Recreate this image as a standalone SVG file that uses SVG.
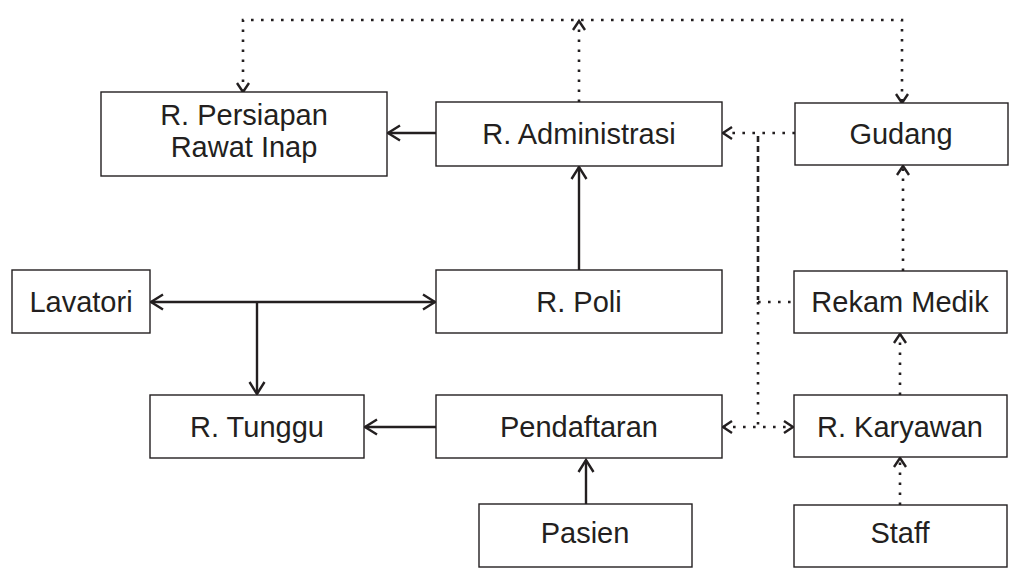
<svg xmlns="http://www.w3.org/2000/svg" width="1017" height="575" viewBox="0 0 1017 575">
  <defs>
    <style>
      .box { fill: #ffffff; stroke: #231f20; stroke-width: 1.4; }
      .lbl { font-family: "Liberation Sans", Arial, sans-serif; font-size: 29px; fill: #231f20; text-anchor: middle; }
      .solid { fill: none; stroke: #231f20; stroke-width: 2.4; }
      .dot { fill: none; stroke: #231f20; stroke-width: 2.6; stroke-dasharray: 2.6 7.4; }
      .dash { fill: none; stroke: #231f20; stroke-width: 2.6; stroke-dasharray: 6 4; }
    </style>
    <marker id="arrow" markerUnits="userSpaceOnUse" markerWidth="20" markerHeight="20" viewBox="-14 -10 16 20" refX="0" refY="0" orient="auto-start-reverse">
      <path d="M-12,-7.5 L0,0 L-12,7.5" fill="none" stroke="#231f20" stroke-width="2.4"/>
    </marker>
    <marker id="arrowSm" markerUnits="userSpaceOnUse" markerWidth="16" markerHeight="16" viewBox="-12 -8 14 16" refX="0" refY="0" orient="auto-start-reverse">
      <path d="M-9,-6 L0,0 L-9,6" fill="none" stroke="#231f20" stroke-width="2.4"/>
    </marker>
  </defs>
  <rect width="1017" height="575" fill="#ffffff"/>

  <g id="connectors">
    <!-- R. Administrasi up to the top bus, branching to R. Persiapan and Gudang -->
    <line class="dot" x1="579" y1="102" x2="579" y2="21" marker-end="url(#arrowSm)"/>
    <polyline class="dot" points="243,92 243,20 902,20 902,103"/>
    <line x1="243" y1="80" x2="243" y2="92" stroke="none" marker-end="url(#arrowSm)"/>
    <line x1="902" y1="90" x2="902" y2="103" stroke="none" marker-end="url(#arrowSm)"/>

    <!-- solid flows -->
    <line class="solid" x1="436" y1="133" x2="388" y2="133" marker-end="url(#arrow)"/>
    <line class="solid" x1="579" y1="270" x2="579" y2="167" marker-end="url(#arrow)"/>
    <line class="solid" x1="151" y1="302" x2="435" y2="302" marker-start="url(#arrow)" marker-end="url(#arrow)"/>
    <line class="solid" x1="257" y1="302" x2="257" y2="394" marker-end="url(#arrow)"/>
    <line class="solid" x1="436" y1="427" x2="365" y2="427" marker-end="url(#arrow)"/>
    <line class="solid" x1="586" y1="504" x2="586" y2="460" marker-end="url(#arrow)"/>

    <!-- staff side, dotted flows -->
    <line class="dot" x1="795" y1="133" x2="723" y2="133" marker-end="url(#arrowSm)"/>
    <line class="dash" x1="758" y1="136" x2="758" y2="300"/>
    <line class="dot" x1="758" y1="302" x2="758" y2="427"/>
    <line class="dot" x1="758" y1="302" x2="794" y2="302"/>
    <line class="dot" x1="723" y1="427" x2="793" y2="427" marker-start="url(#arrowSm)" marker-end="url(#arrowSm)"/>
    <line class="dot" x1="903" y1="271" x2="903" y2="166" marker-end="url(#arrowSm)"/>
    <line class="dot" x1="900" y1="395" x2="900" y2="334" marker-end="url(#arrowSm)"/>
    <line class="dot" x1="900" y1="505" x2="900" y2="458" marker-end="url(#arrowSm)"/>
  </g>

  <g id="persiapan">
    <rect class="box" x="101" y="92" width="286" height="84"/>
    <text class="lbl" x="244" y="125">R. Persiapan</text>
    <text class="lbl" x="244" y="157">Rawat Inap</text>
  </g>
  <g id="administrasi">
    <rect class="box" x="436" y="102" width="286" height="64"/>
    <text class="lbl" x="579" y="144">R. Administrasi</text>
  </g>
  <g id="gudang">
    <rect class="box" x="795" y="103" width="213" height="62"/>
    <text class="lbl" x="901" y="144">Gudang</text>
  </g>
  <g id="lavatori">
    <rect class="box" x="12" y="270" width="138" height="63"/>
    <text class="lbl" x="81" y="312">Lavatori</text>
  </g>
  <g id="poli">
    <rect class="box" x="436" y="270" width="286" height="63"/>
    <text class="lbl" x="579" y="312">R. Poli</text>
  </g>
  <g id="rekam-medik">
    <rect class="box" x="794" y="271" width="213" height="62"/>
    <text class="lbl" x="900" y="312">Rekam Medik</text>
  </g>
  <g id="tunggu">
    <rect class="box" x="150" y="395" width="214" height="63"/>
    <text class="lbl" x="257" y="437">R. Tunggu</text>
  </g>
  <g id="pendaftaran">
    <rect class="box" x="436" y="395" width="286" height="63"/>
    <text class="lbl" x="579" y="437">Pendaftaran</text>
  </g>
  <g id="karyawan">
    <rect class="box" x="794" y="395" width="213" height="62"/>
    <text class="lbl" x="900" y="437">R. Karyawan</text>
  </g>
  <g id="pasien">
    <rect class="box" x="479" y="504" width="213" height="63"/>
    <text class="lbl" x="585" y="543">Pasien</text>
  </g>
  <g id="staff">
    <rect class="box" x="794" y="505" width="213" height="62"/>
    <text class="lbl" x="900" y="543">Staff</text>
  </g>
</svg>
